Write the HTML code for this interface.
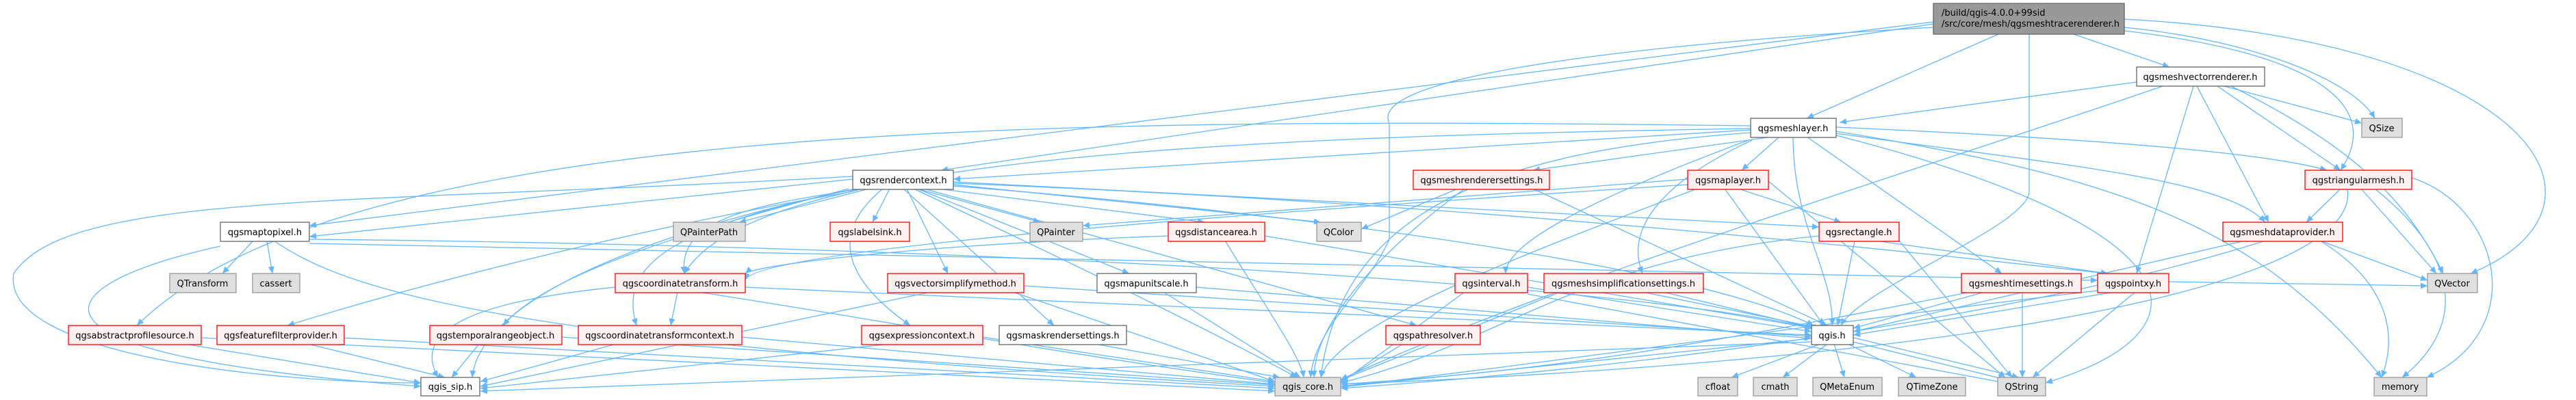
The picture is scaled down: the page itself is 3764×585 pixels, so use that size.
<!DOCTYPE html>
<html><head><meta charset="utf-8">
<style>
html,body{margin:0;padding:0;background:#fff;}
svg{display:block;}
.e{fill:none;stroke:#63b8ff;stroke-width:1.3;marker-end:url(#ah);}
text{font-family:"DejaVu Sans","Liberation Sans",sans-serif;font-size:13px;fill:#000;}
.w{fill:#fff;stroke:#666;stroke-width:1.3;}
.r{fill:#fff0f0;stroke:#ff0000;stroke-width:1.3;}
.g{fill:#e0e0e0;stroke:#999;stroke-width:1.3;}
</style></head><body>
<svg width="3764" height="585" viewBox="0 0 3764 585" xmlns="http://www.w3.org/2000/svg">
<defs><marker id="ah" viewBox="0 0 10 10" refX="10" refY="5" markerWidth="12" markerHeight="10" markerUnits="userSpaceOnUse" orient="auto"><path d="M0,0.5 L10,5 L0,9.5 z" fill="#63b8ff"/></marker></defs>
<g>
<!-- top -->
<path class="e" d="M2920,50 L2640,173"/>
<path class="e" d="M3030,50 L3170,98"/>
<path class="e" d="M3104,40 C3300,60 3440,120 3470,173"/>
<path class="e" d="M3104,45 C3400,80 3480,160 3420,249"/>
<path class="e" d="M3104,28 C3700,60 3850,300 3610,400"/>
<path class="e" d="M2965,50 L2965,280 C2965,330 2720,420 2690,476"/>
<path class="e" d="M2825,40 C2300,70 2000,120 2030,180 L2030,350 C2000,420 1920,480 1915,552"/>
<path class="e" d="M2825,35 L1375,249"/>
<path class="e" d="M2825,32 L452,330"/>
<!-- vector renderer -->
<path class="e" d="M3122,120 L2688,179"/>
<path class="e" d="M3250,126 L3451,180"/>
<path class="e" d="M3240,126 L3420,249"/>
<path class="e" d="M3210,126 L3315,325"/>
<path class="e" d="M3205,126 L3122,400"/>
<path class="e" d="M3260,126 C3450,220 3520,300 3570,400"/>
<path class="e" d="M3160,126 C2800,250 2300,400 1959,555"/>
<!-- mesh layer -->
<path class="e" d="M2558,190 L1393,262"/>
<path class="e" d="M2590,200 L2240,249"/>
<path class="e" d="M2600,200 L2545,249"/>
<path class="e" d="M2620,200 C2620,330 2680,400 2677,476"/>
<path class="e" d="M2640,200 L2925,400"/>
<path class="e" d="M2560,205 C2400,280 2380,350 2400,400"/>
<path class="e" d="M2555,205 C2300,300 2200,360 2200,400"/>
<path class="e" d="M2683,186 C3000,200 3300,220 3400,249"/>
<path class="e" d="M2683,195 C3000,240 3250,260 3310,325"/>
<path class="e" d="M2558,194 C2200,220 1960,300 1930,552"/>
<path class="e" d="M2683,198 C3200,330 3250,480 2989,560"/>
<path class="e" d="M2683,192 C3100,260 3300,330 3480,552"/>
<path class="e" d="M2558,188 C1800,200 1100,230 1000,400"/>
<path class="e" d="M2558,184 C1500,170 500,180 200,476"/>
<!-- render context -->
<path class="e" d="M1246,262 L452,346"/>
<path class="e" d="M1270,276 L1080,325"/>
<path class="e" d="M1300,276 L1275,325"/>
<path class="e" d="M1340,276 L1520,325"/>
<path class="e" d="M1370,276 L1760,325"/>
<path class="e" d="M1393,270 L1930,325"/>
<path class="e" d="M1393,266 L2658,332"/>
<path class="e" d="M1260,276 C1100,300 990,320 1000,400"/>
<path class="e" d="M1250,276 C1000,330 900,380 930,476"/>
<path class="e" d="M1325,276 L1385,400"/>
<path class="e" d="M1340,276 L1650,400"/>
<path class="e" d="M1290,276 C1200,350 1250,420 1330,476"/>
<path class="e" d="M1320,276 L1540,476"/>
<path class="e" d="M1350,276 L2070,476"/>
<path class="e" d="M1240,276 C1000,340 800,400 735,476"/>
<path class="e" d="M1246,280 C900,340 600,420 420,476"/>
<path class="e" d="M1393,272 C2000,320 2500,400 2650,476"/>
<path class="e" d="M1335,276 C1600,400 1800,500 1895,552"/>
<path class="e" d="M1250,276 C900,350 700,450 690,552"/>
<path class="e" d="M1393,268 C2200,300 2800,370 3080,400"/>
<!-- meshrenderersettings / maplayer / triangular -->
<path class="e" d="M2130,276 L1989,335"/>
<path class="e" d="M2140,276 C2000,380 1920,480 1920,552"/>
<path class="e" d="M2240,276 L2670,476"/>
<path class="e" d="M2540,276 L2690,325"/>
<path class="e" d="M2520,276 L2665,476"/>
<path class="e" d="M2480,276 C2200,380 1950,480 1930,552"/>
<path class="e" d="M2584,265 L2930,552"/>
<path class="e" d="M2466,270 C2000,300 1100,360 1089,410"/>
<path class="e" d="M2466,262 L1582,330"/>
<path class="e" d="M3420,276 L3370,325"/>
<path class="e" d="M3450,276 L3560,400"/>
<path class="e" d="M3470,276 C3600,380 3600,480 3510,552"/>
<path class="e" d="M3430,276 C3450,400 3000,520 1959,562"/>
<path class="e" d="M3524,260 C3650,300 3700,480 3546,552"/>
<!-- maptopixel -->
<path class="e" d="M370,352 L325,400"/>
<path class="e" d="M390,352 L398,400"/>
<path class="e" d="M400,352 C500,420 700,500 1863,565"/>
<path class="e" d="M322,360 C50,420 0,520 615,565"/>
<path class="e" d="M452,356 L3065,410"/>
<path class="e" d="M452,350 C1500,360 2400,420 2647,480"/>
<path class="e" d="M1246,258 C500,300 100,280 20,400 C0,520 400,560 615,560"/>
<!-- distancearea, rectangle, dataprovider -->
<path class="e" d="M1707,345 C1300,360 1100,390 1089,400"/>
<path class="e" d="M1790,352 C1850,450 1900,520 1905,552"/>
<path class="e" d="M1848,345 L2650,480"/>
<path class="e" d="M2710,352 L2685,476"/>
<path class="e" d="M2740,352 L3080,400"/>
<path class="e" d="M2658,345 C2300,380 2200,500 1959,560"/>
<path class="e" d="M2775,352 L2940,552"/>
<path class="e" d="M3390,352 L3547,410"/>
<path class="e" d="M3390,352 C3500,420 3500,500 3480,552"/>
<path class="e" d="M3310,352 C3000,450 2500,530 1959,568"/>
<path class="e" d="M3280,352 L2708,485"/>
<!-- row4 -->
<path class="e" d="M990,427 L980,476"/>
<path class="e" d="M899,420 C700,440 600,480 640,552"/>
<path class="e" d="M1020,427 C1300,470 1500,510 1863,560"/>
<path class="e" d="M1089,420 L2647,490"/>
<path class="e" d="M1480,427 L1863,558"/>
<path class="e" d="M1360,427 L702,565"/>
<path class="e" d="M1496,418 L2647,492"/>
<path class="e" d="M1700,427 L1900,552"/>
<path class="e" d="M1748,420 L2647,495"/>
<path class="e" d="M2140,427 L1959,560"/>
<path class="e" d="M2232,420 L2647,485"/>
<path class="e" d="M2232,430 L2930,560"/>
<path class="e" d="M2280,427 L1959,556"/>
<path class="e" d="M2400,427 L2660,480"/>
<path class="e" d="M2430,427 L2950,552"/>
<path class="e" d="M2900,427 L2708,480"/>
<path class="e" d="M2880,427 C2500,500 2300,540 1959,562"/>
<path class="e" d="M2955,427 L2955,552"/>
<path class="e" d="M3090,427 L2708,490"/>
<path class="e" d="M3120,427 L2970,552"/>
<path class="e" d="M3065,425 C2600,480 2200,540 1959,565"/>
<path class="e" d="M3169,412 L3547,418"/>
<!-- row5 -->
<path class="e" d="M294,494 L1863,572"/>
<path class="e" d="M270,503 L615,560"/>
<path class="e" d="M500,494 L1863,568"/>
<path class="e" d="M450,503 L650,552"/>
<path class="e" d="M700,503 L660,552"/>
<path class="e" d="M821,493 L1863,563"/>
<path class="e" d="M900,503 L702,558"/>
<path class="e" d="M1084,493 L1863,562"/>
<path class="e" d="M1436,493 L1863,558"/>
<path class="e" d="M1300,503 L702,568"/>
<path class="e" d="M1600,503 L1870,552"/>
<path class="e" d="M2050,503 L1959,558"/>
<path class="e" d="M2660,503 L2530,552"/>
<path class="e" d="M2670,503 L2605,552"/>
<path class="e" d="M2680,503 L2695,552"/>
<path class="e" d="M2700,503 L2800,552"/>
<path class="e" d="M2708,500 L2930,555"/>
<path class="e" d="M2647,495 L1959,566"/>
<path class="e" d="M2647,500 L702,572"/>
</g>
<g>
<rect x="2825" y="5" width="279" height="45" fill="#999" stroke="#666" stroke-width="1.3"/>
<text x="2837" y="23">/build/qgis-4.0.0+99sid</text>
<text x="2837" y="39">/src/core/mesh/qgsmeshtracerenderer.h</text>
</g>
<g text-anchor="middle">
<rect class="w" x="3122" y="98" width="187" height="28"/><text x="3215" y="117">qgsmeshvectorrenderer.h</text>
<rect class="w" x="2558" y="173" width="125" height="28"/><text x="2620" y="192">qgsmeshlayer.h</text>
<rect class="g" x="3451" y="173" width="59" height="28"/><text x="3480" y="192">QSize</text>
<rect class="w" x="1246" y="249" width="147" height="28"/><text x="1320" y="268">qgsrendercontext.h</text>
<rect class="r" x="2065" y="249" width="199" height="28"/><text x="2165" y="268">qgsmeshrenderersettings.h</text>
<rect class="r" x="2466" y="249" width="118" height="28"/><text x="2525" y="268">qgsmaplayer.h</text>
<rect class="r" x="3368" y="249" width="156" height="28"/><text x="3446" y="268">qgstriangularmesh.h</text>
<rect class="w" x="322" y="325" width="130" height="28"/><text x="387" y="344">qgsmaptopixel.h</text>
<rect class="g" x="984" y="325" width="105" height="28"/><text x="1036" y="344">QPainterPath</text>
<rect class="r" x="1213" y="325" width="116" height="28"/><text x="1271" y="344">qgslabelsink.h</text>
<rect class="g" x="1505" y="325" width="77" height="28"/><text x="1543" y="344">QPainter</text>
<rect class="r" x="1707" y="325" width="141" height="28"/><text x="1777" y="344">qgsdistancearea.h</text>
<rect class="g" x="1924" y="325" width="65" height="28"/><text x="1956" y="344">QColor</text>
<rect class="r" x="2658" y="325" width="117" height="28"/><text x="2716" y="344">qgsrectangle.h</text>
<rect class="r" x="3248" y="325" width="175" height="28"/><text x="3335" y="344">qgsmeshdataprovider.h</text>
<rect class="g" x="248" y="400" width="97" height="28"/><text x="296" y="419">QTransform</text>
<rect class="g" x="369" y="400" width="69" height="28"/><text x="403" y="419">cassert</text>
<rect class="r" x="899" y="400" width="190" height="28"/><text x="994" y="419">qgscoordinatetransform.h</text>
<rect class="r" x="1297" y="400" width="199" height="28"/><text x="1396" y="419">qgsvectorsimplifymethod.h</text>
<rect class="w" x="1603" y="400" width="145" height="28"/><text x="1675" y="419">qgsmapunitscale.h</text>
<rect class="r" x="2126" y="400" width="106" height="28"/><text x="2179" y="419">qgsinterval.h</text>
<rect class="r" x="2256" y="400" width="233" height="28"/><text x="2372" y="419">qgsmeshsimplificationsettings.h</text>
<rect class="r" x="2866" y="400" width="175" height="28"/><text x="2953" y="419">qgsmeshtimesettings.h</text>
<rect class="r" x="3065" y="400" width="104" height="28"/><text x="3117" y="419">qgspointxy.h</text>
<rect class="g" x="3547" y="400" width="73" height="28"/><text x="3583" y="419">QVector</text>
<rect class="r" x="100" y="476" width="194" height="28"/><text x="197" y="495">qgsabstractprofilesource.h</text>
<rect class="r" x="317" y="476" width="186" height="28"/><text x="410" y="495">qgsfeaturefilterprovider.h</text>
<rect class="r" x="628" y="476" width="193" height="28"/><text x="724" y="495">qgstemporalrangeobject.h</text>
<rect class="r" x="845" y="476" width="239" height="28"/><text x="964" y="495">qgscoordinatetransformcontext.h</text>
<rect class="r" x="1259" y="476" width="177" height="28"/><text x="1347" y="495">qgsexpressioncontext.h</text>
<rect class="w" x="1460" y="476" width="186" height="28"/><text x="1553" y="495">qgsmaskrendersettings.h</text>
<rect class="r" x="2025" y="476" width="138" height="28"/><text x="2094" y="495">qgspathresolver.h</text>
<rect class="w" x="2647" y="476" width="61" height="28"/><text x="2677" y="495">qgis.h</text>
<rect class="w" x="615" y="552" width="86" height="27"/><text x="658" y="570">qgis_sip.h</text>
<rect class="g" x="1863" y="552" width="96" height="27"/><text x="1911" y="570">qgis_core.h</text>
<rect class="g" x="2481" y="552" width="58" height="27"/><text x="2510" y="570">cfloat</text>
<rect class="g" x="2562" y="552" width="64" height="27"/><text x="2594" y="570">cmath</text>
<rect class="g" x="2649" y="552" width="101" height="27"/><text x="2699" y="570">QMetaEnum</text>
<rect class="g" x="2774" y="552" width="98" height="27"/><text x="2823" y="570">QTimeZone</text>
<rect class="g" x="2919" y="552" width="70" height="27"/><text x="2954" y="570">QString</text>
<rect class="g" x="3469" y="552" width="77" height="27"/><text x="3507" y="570">memory</text>
</g>
</svg>
</body></html>
